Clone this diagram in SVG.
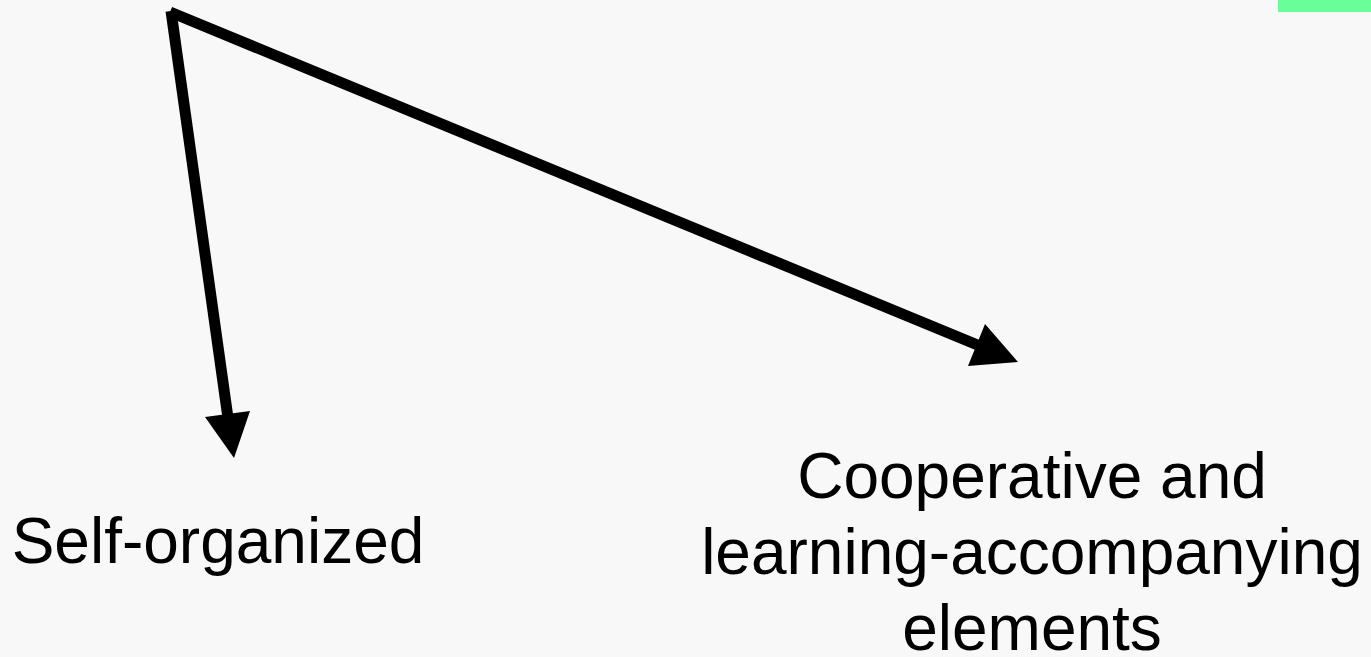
<svg xmlns="http://www.w3.org/2000/svg" width="1371" height="657" viewBox="0 0 1371 657">
<style>
.lbl{font-family:"Liberation Sans",Arial,sans-serif;font-size:64px;fill:#000;text-anchor:middle}
.conn{stroke:#000;stroke-width:11;fill:none}
.head{fill:#000}
</style>
<rect width="1371" height="657" fill="#f8f8f8"/>
<g id="tag"><rect x="1278" y="0" width="93" height="12" fill="#69fe98"/></g>
<g id="connectors">
<line class="conn" x1="171" y1="11" x2="228" y2="418"/>
<polygon class="head" points="205,417 250,411 234,458"/>
<line class="conn" x1="170" y1="12" x2="980" y2="346"/>
<polygon class="head" points="985,324 968,366 1018,362"/>
</g>
<g id="node-self"><text class="lbl" x="218" y="563">Self-organized</text></g>
<g id="node-coop"><text class="lbl" x="1032" y="498">Cooperative and<tspan x="1032" y="574">learning-accompanying</tspan><tspan x="1032" y="650">elements</tspan></text></g>
</svg>
